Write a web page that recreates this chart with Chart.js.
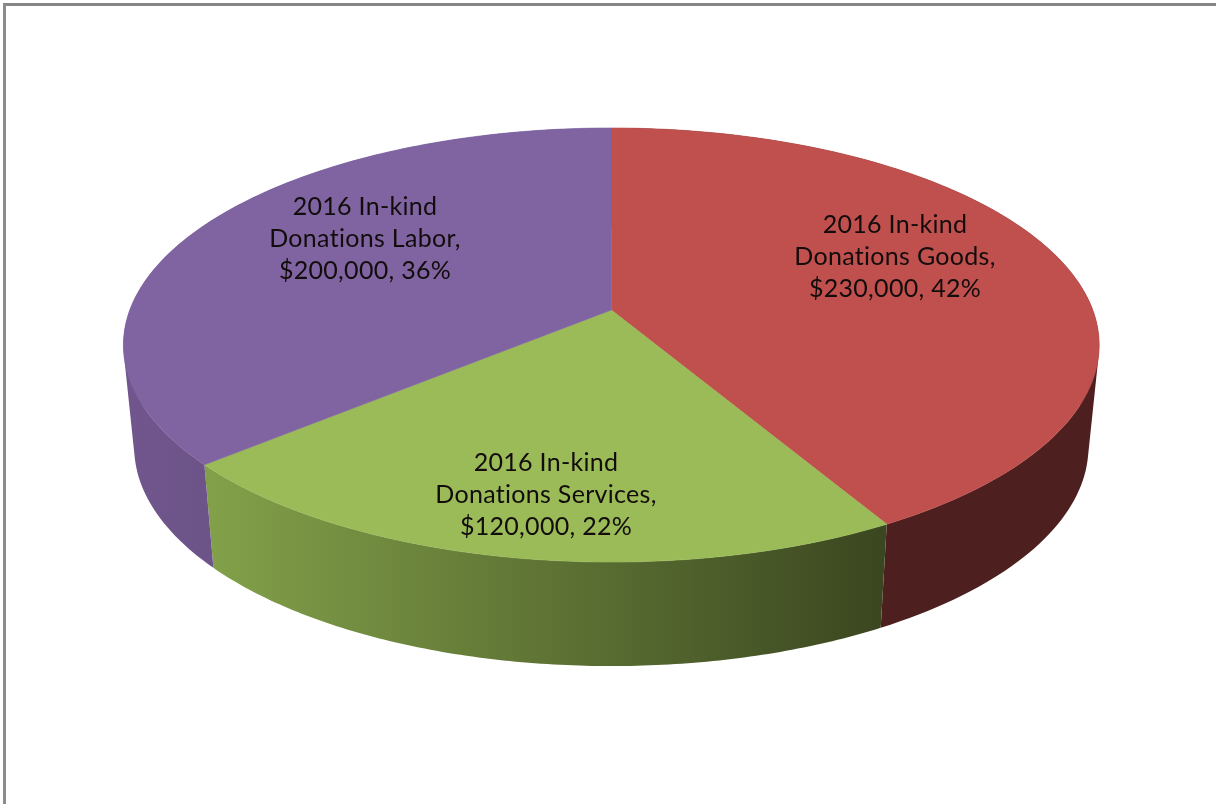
<!DOCTYPE html>
<html>
<head>
<meta charset="utf-8">
<title>2016 In-kind Donations</title>
<script src="https://cdn.jsdelivr.net/npm/chart.js@4"></script>
<style>
  html, body { margin: 0; padding: 0; background: #fff; }
  #frame { position: absolute; left: 3px; top: 3px; width: 1213px; height: 801px; box-sizing: border-box;
           border-top: 3px solid #868686; border-left: 3px solid #8c8c8c; }
  #pie { position: absolute; left: 0; top: 0; filter: blur(0.45px); }
</style>
</head>
<body>
<canvas id="pie" width="1216" height="804"></canvas>
<div id="frame"></div>
<script>
const categories = ["2016 In-kind Donations Goods", "2016 In-kind Donations Services", "2016 In-kind Donations Labor"];
const values = [230000, 120000, 200000];
const labelLines = [
    ["2016 In-kind", "Donations Goods,", "$230,000, 42%"],
    ["2016 In-kind", "Donations Services,", "$120,000, 22%"],
    ["2016 In-kind", "Donations Labor,", "$200,000, 36%"]
];
const topColors = ["#c0504d", "#9bbb59", "#8064a2"];

// where the labels sit, and the look of the tilted disc
const labelCentres = [[895, 257], [546, 495], [365, 239]];
const wallFills = [
    ["#4d1f1e", "#4d1f1e"],
    ["#82a049", "#3b4720"],
    ["#70568c", "#6c5388"]
];
const wallRange = [[880, 213], [213, 880], [128, 213]];

// perspective of the disc: unit circle (u, v) -> picture
const cx = 611.3, apexY = 310, spreadX = 481.5, spreadY = 161.4, tilt = 0.1613;

function topPoint(angle) {
    const u = Math.cos(angle), v = -Math.sin(angle);
    const d = 1 + tilt * v;
    return [cx + spreadX * u / d, (apexY - spreadY * v) / d];
}

function bottomPoint(angle) {
    const p = topPoint(angle);
    return [cx + 0.978 * (p[0] - cx), 1.01 * p[1] + 98.4];
}

function arcPoints(arc, project) {
    const pts = [];
    const steps = 120;
    for (let i = 0; i <= steps; i++) {
        pts.push(project(arc.startAngle + (arc.endAngle - arc.startAngle) * i / steps));
    }
    return pts;
}

// all quads of a wall go in one path, wound the same way, so no seams show
function addQuad(ctx, quad) {
    let area = 0;
    quad.forEach((p, i) => {
        const q = quad[(i + 1) % 4];
        area += p[0] * q[1] - q[0] * p[1];
    });
    if (area < 0) quad.reverse();
    ctx.moveTo(quad[0][0], quad[0][1]);
    quad.slice(1).forEach(p => ctx.lineTo(p[0], p[1]));
    ctx.closePath();
}

const disc3d = {
    id: "disc3d",
    beforeDatasetsDraw(chart) {
        const ctx = chart.ctx;
        const arcs = chart.getDatasetMeta(0).data;

        // side walls first, the top faces cover what is behind them
        arcs.forEach((arc, i) => {
            const top = arcPoints(arc, topPoint);
            const bottom = arcPoints(arc, bottomPoint);
            const grad = ctx.createLinearGradient(wallRange[i][0], 0, wallRange[i][1], 0);
            grad.addColorStop(0, wallFills[i][0]);
            grad.addColorStop(1, wallFills[i][1]);
            ctx.beginPath();
            for (let k = 0; k < top.length - 1; k++) {
                addQuad(ctx, [top[k], top[k + 1], bottom[k + 1], bottom[k]]);
            }
            ctx.fillStyle = grad;
            ctx.fill();
        });

        arcs.forEach((arc, i) => {
            ctx.beginPath();
            ctx.moveTo(cx, apexY);
            arcPoints(arc, topPoint).forEach(p => ctx.lineTo(p[0], p[1]));
            ctx.closePath();
            ctx.fillStyle = topColors[i];
            ctx.strokeStyle = topColors[i];
            ctx.lineWidth = 0.6;
            ctx.fill();
            ctx.stroke();
        });

        ctx.fillStyle = "#120c0c";
        ctx.font = "25px Lato";
        ctx.letterSpacing = "0.3px"; // also stops the "ti" ligature
        ctx.textAlign = "center";
        ctx.textBaseline = "middle";
        labelLines.forEach((lines, i) => {
            lines.forEach((line, j) => {
                ctx.fillText(line, labelCentres[i][0], labelCentres[i][1] + (j - 1) * 32);
            });
        });

        return false; // the flat arcs are replaced by the drawing above
    }
};

new Chart(document.getElementById("pie").getContext("2d"), {
    type: "pie",
    data: {
        labels: categories,
        datasets: [{ data: values, backgroundColor: topColors, borderWidth: 0 }]
    },
    options: {
        responsive: false,
        animation: false,
        devicePixelRatio: 1,
        events: [],
        plugins: {
            legend: { display: false },
            tooltip: { enabled: false }
        }
    },
    plugins: [disc3d]
});
</script>
</body>
</html>
